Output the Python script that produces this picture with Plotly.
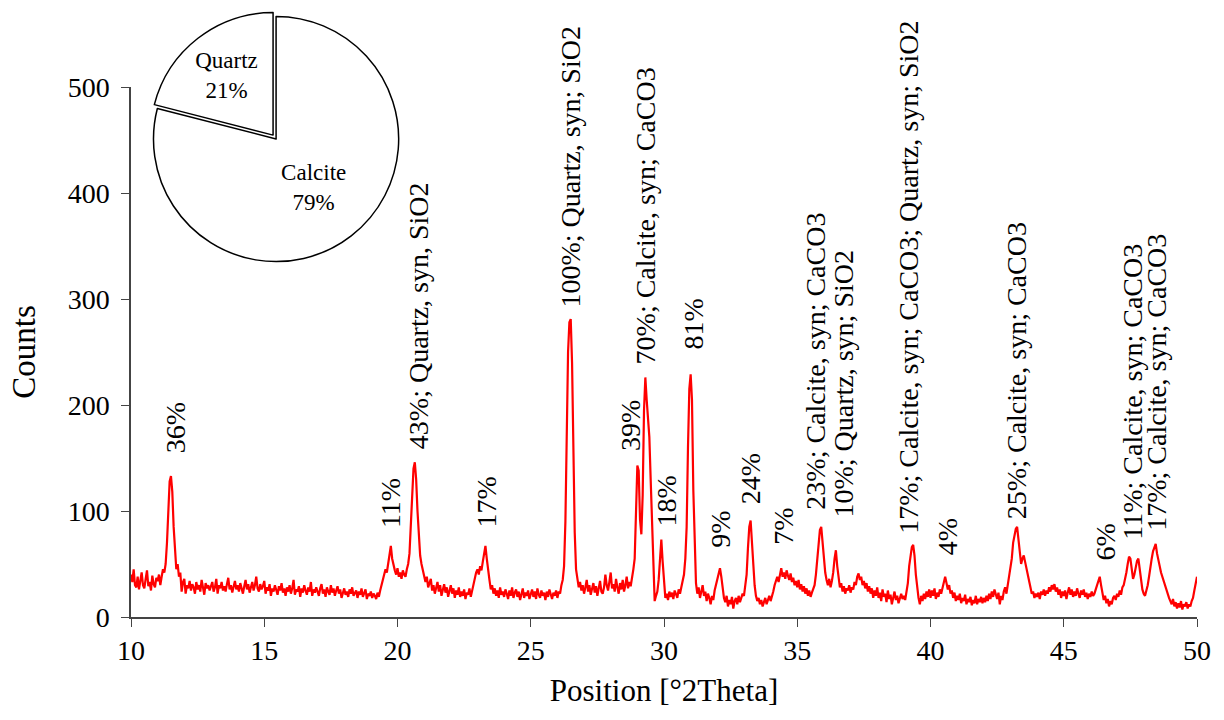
import plotly.graph_objects as go

# ---------------- data ----------------
two_theta_start = 10.0
two_theta_step = 0.05
counts = [
    40, 33, 45, 30, 28, 38, 26, 35, 42, 30, 27, 36, 44, 29, 33, 25, 39, 31, 28, 37,   # 10
    34, 40, 30, 38, 45, 42, 50, 70, 105, 128, 133, 118, 85, 58, 45, 50, 38, 42, 24, 33,  # 11
    36, 22, 30, 27, 34, 25, 31, 28, 22, 33, 26, 30, 24, 35, 28, 21, 32, 27, 30, 25,   # 12
    29, 33, 24, 28, 36, 22, 30, 27, 33, 25, 29, 24, 31, 37, 26, 30, 23, 28, 34, 26,   # 13
    30, 24, 32, 27, 22, 29, 35, 26, 31, 23, 28, 33, 25, 30, 38, 27, 24, 31, 26, 29,   # 14
    34, 22, 28, 25, 31, 20, 27, 24, 30, 26, 21, 29, 25, 32, 23, 27, 20, 28, 24, 30,   # 15
    22, 27, 35, 21, 26, 24, 29, 19, 27, 23, 30, 25, 21, 28, 24, 33, 20, 26, 23, 28,   # 16
    24, 20, 27, 31, 22, 26, 19, 28, 24, 21, 30, 23, 27, 20, 25, 29, 22, 26, 18, 24,   # 17
    27, 21, 24, 19, 26, 22, 28, 20, 23, 25, 18, 24, 21, 27, 19, 23, 26, 17, 22, 20,   # 18
    24, 18, 22, 20, 17, 23, 19, 25, 30, 36, 40, 45, 42, 50, 58, 67, 55, 48, 44, 40,   # 19
    46, 38, 42, 36, 44, 40, 38, 45, 50, 60, 85, 120, 140, 146, 130, 100, 75, 58, 50, 45,  # 20
    40, 33, 38, 28, 32, 36, 25, 30, 22, 28, 33, 24, 30, 20, 27, 31, 23, 28, 19, 26,   # 21
    30, 22, 27, 18, 25, 21, 28, 19, 24, 20, 26, 17, 23, 21, 27, 19, 25, 30, 35, 42,   # 22
    45, 40, 48, 44, 52, 60, 67, 55, 42, 35, 26, 30, 22, 27, 20, 25, 18, 28, 21, 24,   # 23
    19, 26, 22, 17, 25, 20, 28, 18, 23, 26, 19, 24, 16, 22, 27, 18, 23, 20, 25, 17,   # 24
    22, 26, 19, 24, 17, 27, 21, 18, 25, 20, 23, 16, 24, 19, 26, 21, 17, 23, 20, 25,   # 25
    18, 24, 22, 30, 35, 48, 90, 170, 250, 278, 281, 240, 150, 80, 45, 35, 28, 33, 25, 30,  # 26
    22, 28, 35, 24, 30, 21, 27, 32, 23, 29, 20, 26, 34, 24, 22, 28, 40, 30, 25, 33,   # 27
    42, 27, 31, 24, 36, 28, 22, 32, 26, 35, 24, 30, 38, 27, 33, 29, 36, 45, 55, 105,  # 28
    143, 138, 92, 78, 115, 195, 226, 205, 190, 170, 130, 95, 45, 15, 20, 24, 35, 58, 73, 52,  # 29
    30, 18, 22, 16, 24, 19, 23, 17, 25, 21, 18, 26, 22, 28, 35, 40, 55, 85, 160, 215,  # 30
    229, 205, 120, 60, 32, 22, 28, 18, 25, 30, 20, 24, 15, 22, 18, 12, 20, 16, 25, 30,  # 31
    35, 40, 46, 38, 28, 18, 14, 20, 10, 16, 12, 19, 8, 15, 18, 12, 20, 14, 18, 22,    # 32
    20, 28, 40, 65, 85, 91, 72, 45, 30, 20, 15, 18, 12, 16, 10, 14, 18, 12, 16, 20,   # 33
    15, 19, 24, 30, 35, 38, 33, 40, 46, 38, 42, 36, 44, 39, 35, 41, 33, 37, 30, 34,   # 34
    28, 35, 26, 31, 24, 29, 22, 27, 20, 25, 19, 23, 26, 30, 40, 55, 72, 82, 85, 70,   # 35
    55, 42, 35, 30, 36, 28, 34, 42, 55, 63, 48, 35, 28, 32, 24, 29, 22, 27, 25, 30,   # 36
    23, 28, 26, 33, 30, 38, 41, 35, 38, 30, 34, 27, 32, 24, 29, 22, 27, 18, 25, 20,   # 37
    28, 18, 23, 15, 26, 19, 22, 14, 25, 17, 21, 12, 19, 24, 16, 20, 13, 18, 22, 17,   # 38
    20, 16, 24, 32, 48, 60, 66, 68, 58, 40, 26, 18, 12, 20, 15, 22, 17, 24, 19, 26,   # 39
    18, 25, 20, 27, 17, 23, 19, 26, 22, 28, 33, 38, 32, 26, 30, 22, 25, 18, 23, 15,   # 40
    20, 16, 22, 13, 18, 15, 21, 12, 17, 14, 19, 11, 16, 13, 20, 12, 17, 14, 19, 13,   # 41
    18, 14, 20, 15, 22, 17, 24, 19, 26, 21, 17, 23, 12, 20, 16, 24, 28, 22, 30, 38,   # 42
    45, 55, 70, 78, 83, 85, 75, 60, 50, 55, 58, 52, 45, 40, 34, 28, 22, 24, 18, 22,   # 43
    19, 23, 17, 24, 21, 26, 20, 25, 22, 28, 24, 30, 26, 31, 24, 28, 21, 26, 18, 24,   # 44
    20, 25, 17, 23, 28, 21, 26, 19, 24, 20, 27, 22, 18, 25, 21, 26, 19, 23, 17, 22,   # 45
    19, 24, 20, 22, 26, 30, 36, 38, 30, 22, 16, 20, 13, 17, 10, 15, 12, 18, 20, 16,   # 46
    22, 19, 25, 21, 28, 30, 35, 42, 50, 57, 55, 45, 36, 40, 48, 53, 55, 45, 32, 26,   # 47
    22, 20, 25, 30, 38, 48, 55, 62, 66, 69, 60, 55, 48, 42, 38, 32, 28, 24, 20, 18,   # 48
    15, 12, 17, 10, 14, 8, 13, 9, 15, 7, 12, 10, 14, 8, 12, 10, 15, 18, 25, 32,       # 49
    38,                                                                                # 50
]

peak_labels = [
    "36%", "11%", "43%; Quartz, syn, SiO2", "17%", "100%; Quartz, syn; SiO2",
    "39%", "70%; Calcite, syn; CaCO3", "18%", "81%", "9%", "24%", "7%",
    "23%; Calcite, syn; CaCO3", "10%; Quartz, syn; SiO2",
    "17%; Calcite, syn; CaCO3; Quartz, syn; SiO2", "4%",
    "25%; Calcite, syn; CaCO3", "6%", "11%; Calcite, syn; CaCO3",
    "17%; Calcite, syn; CaCO3",
]
label_two_theta = [11.65, 19.72, 20.77, 23.36, 26.51, 28.72, 29.29, 30.11, 31.09,
                   32.14, 33.23, 34.47, 35.67, 36.72, 39.19, 40.62, 43.21, 46.55,
                   47.60, 48.50]
label_counts = [153, 82, 156, 82, 290, 155, 236, 84, 250, 63, 104, 66, 99, 92,
                77, 56, 90, 51, 71, 79]

phase_names = ["Calcite", "Quartz"]
phase_percent = [79, 21]

x_ticks = [10, 15, 20, 25, 30, 35, 40, 45, 50]
y_ticks = [0, 100, 200, 300, 400, 500]

# ---------------- figure ----------------
two_theta = [round(two_theta_start + i * two_theta_step, 2) for i in range(len(counts))]

SERIF = "Liberation Serif"

fig = go.Figure()
fig.add_trace(go.Scatter(
    x=two_theta, y=counts, mode="lines",
    line=dict(color="#ff0000", width=2.2),
    showlegend=False, hoverinfo="skip",
))
fig.add_trace(go.Pie(
    labels=phase_names, values=phase_percent, sort=False,
    direction="clockwise", rotation=0, pull=[0, 0.04],
    marker=dict(colors=["white", "white"], line=dict(color="black", width=1.5)),
    texttemplate="%{label}<br>%{value}%", textposition="inside",
    insidetextorientation="horizontal",
    textfont=dict(family=SERIF, size=23, color="black"),
    domain=dict(x=[0.0165, 0.2557], y=[0.5727, 0.9894]),
    showlegend=False, hoverinfo="skip",
))

annotations = []
for txt, lx, ly in zip(peak_labels, label_two_theta, label_counts):
    annotations.append(dict(
        x=lx, y=ly, xref="x", yref="y", text=txt, textangle=-90,
        xanchor="center", yanchor="bottom", showarrow=False,
        font=dict(family=SERIF, size=28, color="black"),
    ))

fig.update_layout(
    width=1224, height=720,
    margin=dict(l=131, r=27, t=5, b=103),
    paper_bgcolor="white", plot_bgcolor="white",
    font=dict(family=SERIF, size=28, color="black"),
    xaxis=dict(
        range=[10, 50], tickvals=x_ticks, showline=True, linecolor="#444",
        linewidth=1.5, ticks="outside", ticklen=8, tickcolor="#444",
        showgrid=False, zeroline=False, automargin=False,
        tickfont=dict(family=SERIF, size=28),
        title=dict(text="Position [°2Theta]", standoff=14,
                   font=dict(family=SERIF, size=31)),
    ),
    yaxis=dict(
        range=[0, 500], tickvals=y_ticks, domain=[0, 530 / 612],
        showline=True, linecolor="#444", linewidth=1.5, ticks="outside",
        ticklen=8, tickcolor="#444", showgrid=False, zeroline=False,
        automargin=False, tickfont=dict(family=SERIF, size=28),
        ticklabelstandoff=6,
        title=dict(text="Counts", standoff=22, font=dict(family=SERIF, size=33)),
    ),
    annotations=annotations,
)

fig.write_html(
    "out.html",
    config={"displayModeBar": False},
    post_script="document.body.style.margin='0';document.body.style.overflow='hidden';",
)
